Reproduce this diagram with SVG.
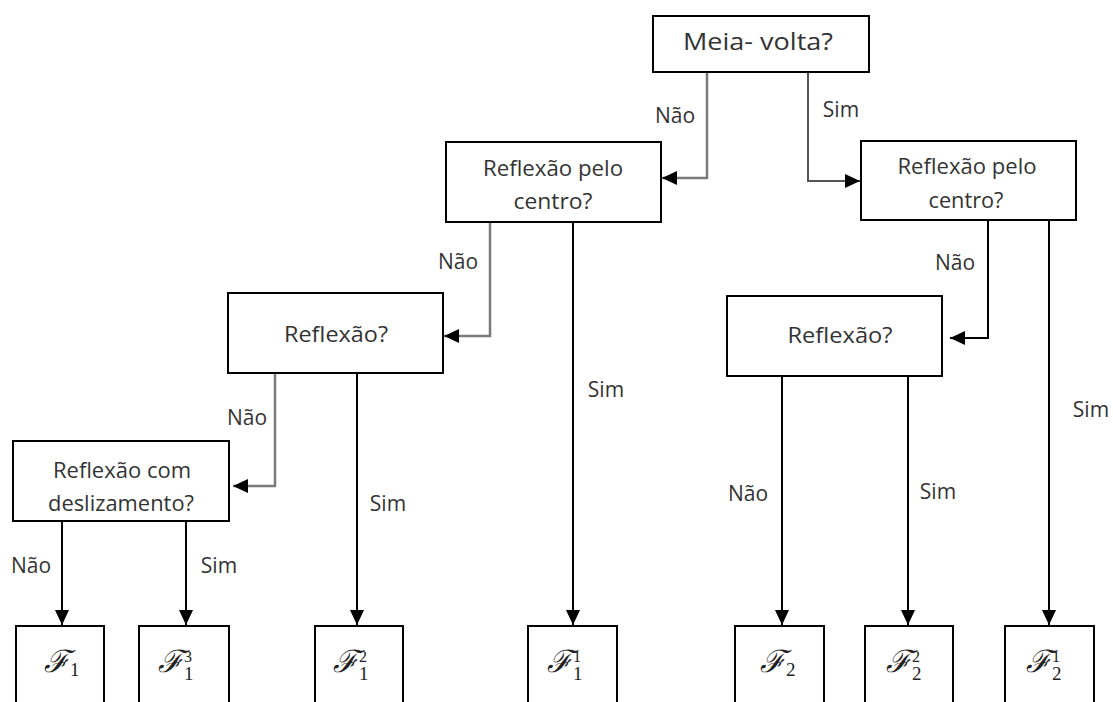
<svg xmlns="http://www.w3.org/2000/svg" width="1113" height="702" viewBox="0 0 1113 702">
<style>
.box{fill:#fff;stroke:#000;stroke-width:2}
.t{font-family:"Open Sans","DejaVu Sans",sans-serif;font-size:21px;fill:#333;text-anchor:middle}
.big{font-size:24px}
.c{fill:none;stroke-width:2}
.k{stroke:#000}
.g{stroke:#7a7a7a;stroke-width:2.5}
.dg{stroke:#555}
.F{font-family:"DejaVu Serif",serif;font-size:31px;font-style:italic;fill:#222}
.sub{font-family:"Liberation Serif",serif;font-size:19px;fill:#222}
.sup{font-family:"Liberation Serif",serif;font-size:16px;fill:#222}
</style>
<defs>
<marker id="ah" markerUnits="userSpaceOnUse" markerWidth="15" markerHeight="14" refX="15" refY="7" orient="auto">
<path d="M0,0 L15,7 L0,14 z" fill="#000"/>
</marker>
</defs>
<rect width="1113" height="702" fill="#fff"/>
<g id="connectors">
<path class="c g" d="M707,72 V178 H662" marker-end="url(#ah)"/>
<path class="c dg" d="M808,72 V181 H860" marker-end="url(#ah)"/>
<path class="c g" d="M490,222 V336 H444" marker-end="url(#ah)"/>
<path class="c k" d="M573,222 V625" marker-end="url(#ah)"/>
<path class="c k" d="M988,220 V338 H950" marker-end="url(#ah)"/>
<path class="c k" d="M1049,220 V625" marker-end="url(#ah)"/>
<path class="c g" d="M275,373 V486 H233" marker-end="url(#ah)"/>
<path class="c k" d="M357,373 V625" marker-end="url(#ah)"/>
<path class="c k" d="M782,376 V625" marker-end="url(#ah)"/>
<path class="c k" d="M908,376 V625" marker-end="url(#ah)"/>
<path class="c k" d="M62,521 V625" marker-end="url(#ah)"/>
<path class="c k" d="M186,521 V625" marker-end="url(#ah)"/>
<text class="t" x="675" y="123">Não</text>
<text class="t" x="841" y="117">Sim</text>
<text class="t" x="458" y="269">Não</text>
<text class="t" x="606" y="397">Sim</text>
<text class="t" x="247" y="425">Não</text>
<text class="t" x="388" y="511">Sim</text>
<text class="t" x="955" y="270">Não</text>
<text class="t" x="1091" y="417">Sim</text>
<text class="t" x="748" y="501">Não</text>
<text class="t" x="938" y="499">Sim</text>
<text class="t" x="31" y="573">Não</text>
<text class="t" x="219" y="573">Sim</text>
</g>
<g id="meia-volta">
<rect class="box" x="653" y="16" width="216" height="56"/>
<text class="t big" x="758" y="50" textLength="150" lengthAdjust="spacingAndGlyphs">Meia- volta?</text>
</g>
<g id="rpc-left">
<rect class="box" x="446" y="142" width="215" height="80"/>
<text class="t" x="553" y="176" textLength="140" lengthAdjust="spacingAndGlyphs">Reflexão pelo</text>
<text class="t" x="553" y="209" textLength="79" lengthAdjust="spacingAndGlyphs">centro?</text>
</g>
<g id="rpc-right">
<rect class="box" x="861" y="141" width="215" height="79"/>
<text class="t" x="967" y="174" textLength="139" lengthAdjust="spacingAndGlyphs">Reflexão pelo</text>
<text class="t" x="966" y="208" textLength="75" lengthAdjust="spacingAndGlyphs">centro?</text>
</g>
<g id="reflexao-left">
<rect class="box" x="228" y="293" width="215" height="80"/>
<text class="t" x="336" y="342" textLength="104" lengthAdjust="spacingAndGlyphs">Reflexão?</text>
</g>
<g id="reflexao-right">
<rect class="box" x="727" y="296" width="215" height="80"/>
<text class="t" x="840" y="343" textLength="105" lengthAdjust="spacingAndGlyphs">Reflexão?</text>
</g>
<g id="reflexao-deslizamento">
<rect class="box" x="13" y="441" width="216" height="80"/>
<text class="t" x="122" y="478" textLength="138" lengthAdjust="spacingAndGlyphs">Reflexão com</text>
<text class="t" x="121" y="511" textLength="146" lengthAdjust="spacingAndGlyphs">deslizamento?</text>
</g>
<g id="F1">
<rect class="box" x="16" y="626" width="88" height="100"/>
<text class="F" x="44" y="672">ℱ</text>
<text class="sub" x="70" y="676">1</text>
</g>
<g id="F1-3">
<rect class="box" x="139" y="626" width="90" height="100"/>
<text class="F" x="158" y="672">ℱ</text>
<text class="sup" x="184" y="662">3</text>
<text class="sub" x="184" y="680">1</text>
</g>
<g id="F1-2">
<rect class="box" x="315" y="626" width="88" height="100"/>
<text class="F" x="333" y="672">ℱ</text>
<text class="sup" x="359" y="662">2</text>
<text class="sub" x="359" y="680">1</text>
</g>
<g id="F1-1">
<rect class="box" x="528" y="626" width="89" height="100"/>
<text class="F" x="547" y="672">ℱ</text>
<text class="sup" x="573" y="662">1</text>
<text class="sub" x="573" y="680">1</text>
</g>
<g id="F2">
<rect class="box" x="735" y="626" width="89" height="100"/>
<text class="F" x="760" y="672">ℱ</text>
<text class="sub" x="786" y="676">2</text>
</g>
<g id="F2-2">
<rect class="box" x="865" y="626" width="88" height="100"/>
<text class="F" x="886" y="672">ℱ</text>
<text class="sup" x="912" y="662">2</text>
<text class="sub" x="912" y="680">2</text>
</g>
<g id="F2-1">
<rect class="box" x="1005" y="626" width="89" height="100"/>
<text class="F" x="1026" y="672">ℱ</text>
<text class="sup" x="1052" y="662">1</text>
<text class="sub" x="1052" y="680">2</text>
</g>
</svg>
